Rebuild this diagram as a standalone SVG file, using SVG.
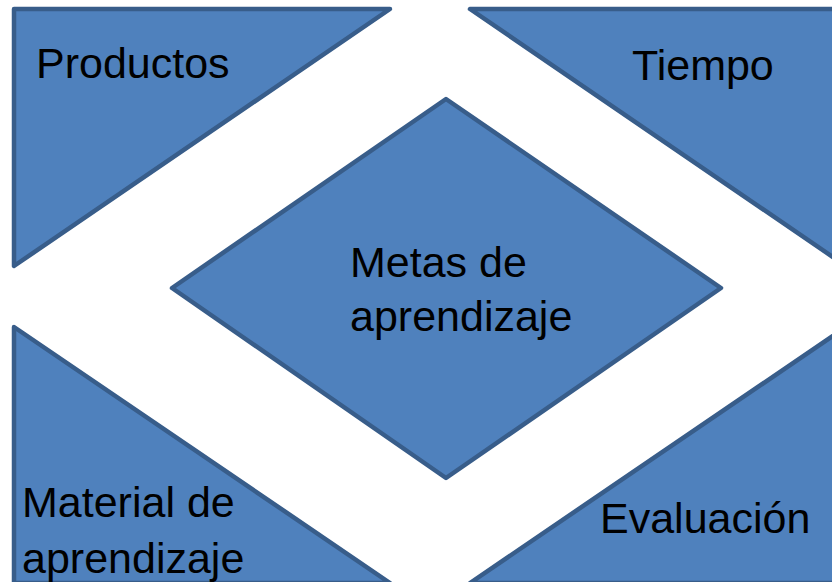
<svg xmlns="http://www.w3.org/2000/svg" width="832" height="582" viewBox="0 0 832 582">
<style>
.s{fill:#4F81BD;stroke:#385D8A;stroke-width:4.5;stroke-linejoin:round}
.t{font-family:"Liberation Sans",Arial,sans-serif;font-size:43px;fill:#000}
</style>
<rect width="832" height="582" fill="#fff"/>
<g id="productos">
<polygon class="s" points="14,9 390,9 14,266"/>
<text class="t" x="36" y="78">Productos</text>
</g>
<g id="tiempo">
<polygon class="s" points="470,9 846,9 846,266"/>
<text class="t" x="632" y="80">Tiempo</text>
</g>
<g id="metas">
<polygon class="s" points="446,99 721,288 446,478 172,288"/>
<text class="t" x="350" y="277">Metas de</text>
<text class="t" x="350" y="331">aprendizaje</text>
</g>
<g id="material">
<polygon class="s" points="14,327 390,583 14,583"/>
<text class="t" x="22" y="517">Material de</text>
<text class="t" x="22" y="573">aprendizaje</text>
</g>
<g id="evaluacion">
<polygon class="s" points="846,327 846,583 470,583"/>
<text class="t" x="600" y="533">Evaluación</text>
</g>
<g id="connectors"></g>
</svg>
